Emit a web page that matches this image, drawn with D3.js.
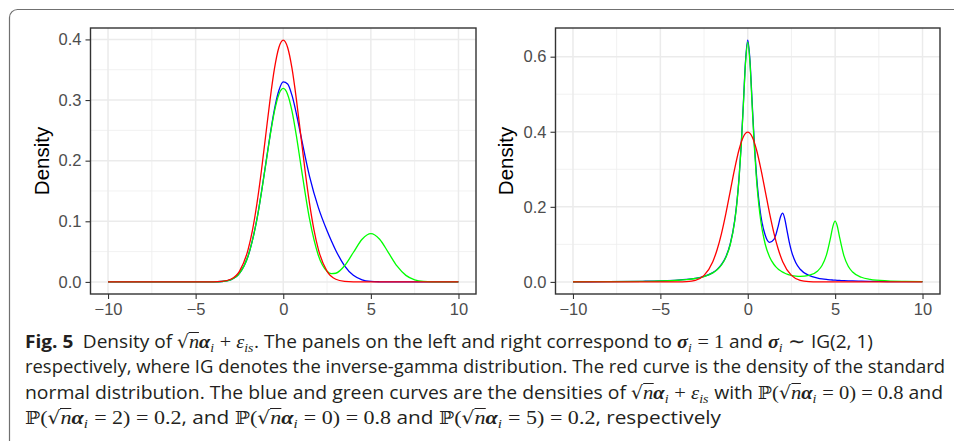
<!DOCTYPE html>
<html>
<head>
<meta charset="utf-8">
<script src="https://d3js.org/d3.v7.min.js"></script>
<style>
  body { margin: 0; background: #fff; }
  #wrap { position: relative; width: 954px; height: 441px; overflow: hidden; background: #fff; }
  #wrap svg { position: absolute; left: 0; top: 0; }
  .cap { position: absolute; left: 25px; white-space: nowrap; font-family: "Open Sans", sans-serif;
         font-size: 17px; line-height: 20px; color: #231f20; transform-origin: 0 0; }
  .cap .fig { font-weight: bold; }
  .m { font-family: "Liberation Serif", serif; font-size: 1.06em; }
  .gr { font-style: italic; font-weight: bold; }
  .it { font-style: italic; }
  .rad { font-family: "DejaVu Serif", serif; font-size: 0.92em; }
  .ov { font-style: italic; display: inline-block; border-top: 1px solid #231f20; line-height: 0.78em; padding-top: 1px; }
  .bb { font-family: "DejaVu Serif", serif; font-size: 0.92em; }
  .cap sub { font-size: 0.68em; vertical-align: baseline; position: relative; top: 0.28em; line-height: 0; font-style: italic; margin-right: 0.05em; }
</style>
</head>
<body>
<div id="wrap"></div>
<script>
// x ticks shared by both panels
var xTicks = [-10, -5, 0, 5, 10];
var leftYTicks = [0, 0.1, 0.2, 0.3, 0.4];
var rightYTicks = [0, 0.2, 0.4, 0.6];

// red: standard normal density (same curve in both panels)
var normX = [-10, -5, -4, -3.5, -3, -2.5, -2, -1.75, -1.5, -1.25, -1, -0.75, -0.5, -0.25, 0,
             0.25, 0.5, 0.75, 1, 1.25, 1.5, 1.75, 2, 2.5, 3, 3.5, 4, 5, 10];
var normY = [0, 0, 0.0001, 0.0009, 0.0044, 0.0175, 0.0540, 0.0863, 0.1295, 0.1826, 0.2420, 0.3011, 0.3521, 0.3867, 0.3989,
             0.3867, 0.3521, 0.3011, 0.2420, 0.1826, 0.1295, 0.0863, 0.0540, 0.0175, 0.0044, 0.0009, 0.0001, 0, 0];

// left panel, sigma_i = 1
var leftX = [-10, -5, -4, -3.5, -3, -2.5, -2, -1.5, -1, -0.75, -0.5, -0.25, 0, 0.25, 0.5, 0.75, 1,
             1.5, 2, 2.5, 2.75, 3, 3.5, 4, 4.5, 5, 5.5, 6, 6.5, 7, 7.5, 8, 9, 10];
var leftBlue = [0, 0, 0.0001, 0.0007, 0.0035, 0.0140, 0.0432, 0.1038, 0.1945, 0.2427, 0.2852, 0.3157, 0.3299, 0.3266, 0.3076, 0.2774, 0.2420,
                0.1740, 0.1230, 0.0844, 0.0675, 0.0519, 0.0266, 0.0109, 0.0035, 0.0009, 0.0002, 0, 0, 0, 0, 0, 0, 0];
var leftGreen = [0, 0, 0.0001, 0.0007, 0.0035, 0.0140, 0.0432, 0.1036, 0.1936, 0.2409, 0.2817, 0.3093, 0.3191, 0.3093, 0.2817, 0.2409, 0.1936,
                 0.1038, 0.0441, 0.0175, 0.0136, 0.0143, 0.0266, 0.0485, 0.0704, 0.0798, 0.0704, 0.0484, 0.0259, 0.0108, 0.0035, 0.0009, 0, 0];

// right panel, sigma_i ~ IG(2, 1)
var rightX = [-10, -8, -6, -5, -4, -3.5, -3, -2.5, -2, -1.75, -1.5, -1.25, -1, -0.75, -0.625, -0.5, -0.375, -0.25, -0.125, 0,
              0.125, 0.25, 0.375, 0.5, 0.625, 0.75, 1, 1.25, 1.5, 1.625, 1.75, 1.875, 2, 2.125, 2.25, 2.375, 2.5, 2.75, 3, 3.5,
              4, 4.25, 4.5, 4.75, 4.875, 5, 5.125, 5.25, 5.5, 5.75, 6, 6.5, 7, 8, 9, 10];
var rightBlue = [0.0004, 0.0007, 0.0016, 0.0026, 0.0046, 0.0065, 0.0095, 0.0148, 0.0248, 0.0334, 0.0464, 0.0671, 0.1016, 0.1628, 0.2110, 0.2763, 0.3647, 0.4761, 0.5898, 0.6442,
                 0.5915, 0.4797, 0.3702, 0.2840, 0.2214, 0.1763, 0.1242, 0.1053, 0.1131, 0.1280, 0.1501, 0.1737, 0.1833, 0.1668, 0.1359, 0.1060, 0.0822, 0.0511, 0.0338, 0.0173,
                 0.0102, 0.0081, 0.0066, 0.0055, 0.0050, 0.0046, 0.0042, 0.0039, 0.0033, 0.0029, 0.0025, 0.0019, 0.0015, 0.0010, 0.0007, 0.0005];
var rightGreen = [0.0004, 0.0007, 0.0015, 0.0024, 0.0044, 0.0062, 0.0091, 0.0142, 0.0240, 0.0324, 0.0452, 0.0656, 0.0997, 0.1604, 0.2084, 0.2733, 0.3612, 0.4721, 0.5852, 0.6389,
                  0.5852, 0.4723, 0.3615, 0.2736, 0.2088, 0.1609, 0.1004, 0.0665, 0.0464, 0.0395, 0.0340, 0.0296, 0.0260, 0.0231, 0.0208, 0.0189, 0.0175, 0.0156, 0.0149, 0.0173,
                  0.0291, 0.0436, 0.0713, 0.1206, 0.1487, 0.1619, 0.1484, 0.1200, 0.0700, 0.0416, 0.0263, 0.0124, 0.0069, 0.0029, 0.0015, 0.0009];

var W = 954, H = 441;
var panelTop = 28, panelBottom = 294;

var svg = d3.select("#wrap").append("svg")
    .attr("width", W)
    .attr("height", H);

// figure frame (rounded top-left corner, runs off the page)
svg.append("path")
    .attr("d", "M" + (W + 5) + ",9.5 H17.5 A8,8 0 0 0 9.5,17.5 V" + (H + 5))
    .attr("fill", "none")
    .attr("stroke", "#707070")
    .attr("stroke-width", 1.2);

var panels = [
    { x0: 90.5, x1: 476, yTicks: leftYTicks, titleX: 42,
      series: [{ xs: leftX, ys: leftBlue, color: "#0000ff" },
               { xs: leftX, ys: leftGreen, color: "#00ff00" },
               { xs: normX, ys: normY, color: "#ff0000" }] },
    { x0: 555.5, x1: 940, yTicks: rightYTicks, titleX: 506,
      series: [{ xs: rightX, ys: rightBlue, color: "#0000ff" },
               { xs: rightX, ys: rightGreen, color: "#00ff00" },
               { xs: normX, ys: normY, color: "#ff0000" }] }
];

function midpoints(t) {
    var out = [];
    for (var i = 1; i < t.length; i++) out.push((t[i - 1] + t[i]) / 2);
    return out;
}

panels.forEach(function (p) {
    var g = svg.append("g");

    // ggplot-like 5% expansion
    var xr = d3.extent(xTicks);
    var xpad = (xr[1] - xr[0]) * 0.05;
    var x = d3.scaleLinear().domain([xr[0] - xpad, xr[1] + xpad]).range([p.x0, p.x1]);

    var ymax = d3.max(p.series, function (s) { return d3.max(s.ys); });
    var ypad = ymax * 0.05;
    var y = d3.scaleLinear().domain([-ypad, ymax + ypad]).range([panelBottom, panelTop]);

    var xMinor = midpoints(xTicks);
    var yMinor = midpoints(p.yTicks);

    // minor grid
    g.selectAll(".xminor").data(xMinor).join("line")
        .attr("x1", d => x(d)).attr("x2", d => x(d))
        .attr("y1", panelTop).attr("y2", panelBottom)
        .attr("stroke", "#eeeeee").attr("stroke-width", 0.8);
    g.selectAll(".yminor").data(yMinor).join("line")
        .attr("x1", p.x0).attr("x2", p.x1)
        .attr("y1", d => y(d)).attr("y2", d => y(d))
        .attr("stroke", "#eeeeee").attr("stroke-width", 0.8);

    // major grid
    g.selectAll(".xmajor").data(xTicks).join("line")
        .attr("x1", d => x(d)).attr("x2", d => x(d))
        .attr("y1", panelTop).attr("y2", panelBottom)
        .attr("stroke", "#ebebeb").attr("stroke-width", 1.5);
    g.selectAll(".ymajor").data(p.yTicks).join("line")
        .attr("x1", p.x0).attr("x2", p.x1)
        .attr("y1", d => y(d)).attr("y2", d => y(d))
        .attr("stroke", "#ebebeb").attr("stroke-width", 1.5);

    // density curves
    p.series.forEach(function (s) {
        var line = d3.line()
            .x(function (d, i) { return x(s.xs[i]); })
            .y(function (d) { return y(d); })
            .curve(d3.curveMonotoneX);
        g.append("path")
            .datum(s.ys)
            .attr("fill", "none")
            .attr("stroke", s.color)
            .attr("stroke-width", 1.3)
            .attr("d", line);
    });

    // panel border
    g.append("rect")
        .attr("x", p.x0).attr("y", panelTop)
        .attr("width", p.x1 - p.x0).attr("height", panelBottom - panelTop)
        .attr("fill", "none")
        .attr("stroke", "#333333")
        .attr("stroke-width", 1.4);

    // axes
    var xAxis = g.append("g")
        .attr("transform", "translate(0," + panelBottom + ")")
        .call(d3.axisBottom(x).tickValues(xTicks).tickSize(5).tickPadding(4));
    var yAxis = g.append("g")
        .attr("transform", "translate(" + p.x0 + ",0)")
        .call(d3.axisLeft(y).tickValues(p.yTicks).tickFormat(d3.format(".1f")).tickSize(5).tickPadding(4));

    [xAxis, yAxis].forEach(function (a) {
        a.select(".domain").remove();
        a.attr("font-family", "'Liberation Sans', Arial, sans-serif").attr("font-size", 16.5);
        a.selectAll("line").attr("stroke", "#333333").attr("stroke-width", 1.1);
        a.selectAll("text").attr("fill", "#4d4d4d");
    });

    // y title
    g.append("text")
        .attr("transform", "translate(" + p.titleX + "," + ((panelTop + panelBottom) / 2) + ") rotate(-90)")
        .attr("dy", "0.35em")
        .attr("text-anchor", "middle")
        .attr("font-family", "'Liberation Sans', Arial, sans-serif")
        .attr("font-size", 20.5)
        .attr("fill", "#000")
        .text("Density");
});

// caption
var sq = '<span class="rad">√</span><span class="ov">n</span><span class="gr">α</span><sub>i</sub>';
var eps = '<span class="it">ε</span><sub>is</sub>';
var sig = '<span class="gr">σ</span><sub>i</sub>';
var P = '<span class="bb">ℙ</span>';

var captionLines = [
    '<span class="fig">Fig. 5</span>&ensp;Density of <span class="m">' + sq + ' + ' + eps + '</span>. The panels on the left and right correspond to <span class="m">' + sig + ' = 1</span> and <span class="m">' + sig + ' ∼</span> IG(2, 1)',
    'respectively, where IG denotes the inverse-gamma distribution. The red curve is the density of the standard',
    'normal distribution. The blue and green curves are the densities of <span class="m">' + sq + ' + ' + eps + '</span> with <span class="m">' + P + '(' + sq + ' = 0) = 0.8</span> and',
    '<span class="m">' + P + '(' + sq + ' = 2) = 0.2</span>, and <span class="m">' + P + '(' + sq + ' = 0) = 0.8</span> and <span class="m">' + P + '(' + sq + ' = 5) = 0.2</span>, respectively'
];
var capRight = [873, 945, 943, 721];
var capTop = [331, 356, 382, 407];
var capLeft = 25;

var caps = d3.select("#wrap").selectAll("div.cap")
    .data(captionLines)
    .join("div")
    .attr("class", "cap")
    .style("top", (d, i) => capTop[i] + "px")
    .html(d => d);

// fit font size on the full-width line, then trim each line
var w2 = caps.nodes()[1].getBoundingClientRect().width;
var fs = 17 * (capRight[1] - capLeft) / w2;
caps.style("font-size", fs + "px");
caps.each(function (d, i) {
    var w = this.getBoundingClientRect().width;
    d3.select(this).style("transform", "scaleX(" + ((capRight[i] - capLeft) / w) + ")");
});
</script>
</body>
</html>
